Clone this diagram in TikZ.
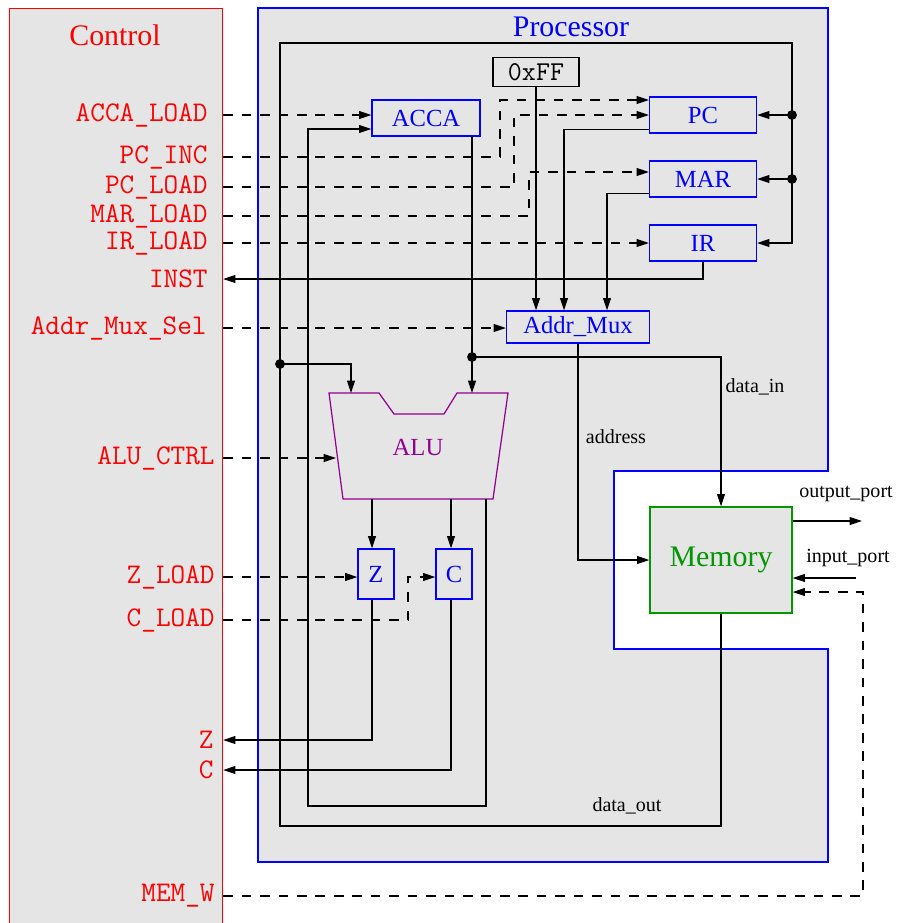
\documentclass[tikz,border=0pt]{standalone}
\usepackage{fontspec}
\setmainfont{Liberation Serif}
\usetikzlibrary{arrows.meta,calc}
\definecolor{panelgray}{RGB}{229,229,229}
\definecolor{ctrlred}{RGB}{255,0,0}
\definecolor{regblue}{RGB}{0,0,255}
\definecolor{memgreen}{RGB}{0,150,0}
\definecolor{alupurple}{RGB}{145,0,145}
\tikzset{
    ctrlbox/.style={draw=ctrlred,fill=panelgray,line width=0.7pt,inner sep=0pt},
    procpanel/.style={draw=regblue,fill=panelgray,line width=0.7pt},
    titletext/.style={inner sep=0pt,font=\fontsize{17}{20}\selectfont},
    regbox/.style={draw=regblue,fill=panelgray,line width=0.8pt,text=regblue,inner sep=0pt,font=\fontsize{14}{16}\selectfont},
    constbox/.style={draw=black,fill=panelgray,line width=0.7pt,inner sep=0pt,font=\ttfamily\fontsize{15.5}{18}\selectfont},
    membox/.style={draw=memgreen,fill=panelgray,line width=0.8pt,text=memgreen,inner sep=0pt,font=\fontsize{17}{20}\selectfont},
    alushape/.style={draw=alupurple,fill=panelgray,line width=0.7pt},
    sigtext/.style={text=ctrlred,anchor=east,inner sep=0pt,font=\ttfamily\fontsize{16.2}{18}\selectfont},
    wiretext/.style={inner sep=0pt,font=\fontsize{11.4}{13}\selectfont},
    wire/.style={->,line width=0.6pt},
    ctlwire/.style={->,line width=0.6pt,dash pattern=on 5.5pt off 5pt},
    junction/.style={fill=black}
}

\begin{document}
\begin{tikzpicture}[x=0.02cm,y=-0.02cm,>={Triangle[length=7pt,width=4.5pt]}]
    \useasboundingbox (0,0) rectangle (897,923);
    % Control unit
    \node[ctrlbox,anchor=north west,minimum width=4.26cm,minimum height=18.7cm] (ctrl) at (9,8) {};
    \node[titletext,text=ctrlred] (ctrltitle) at (115,35) {Control};
    \node[sigtext] (sACCA) at (208,115) {ACCA\_LOAD};
    \node[sigtext] (sPCINC) at (208,157) {PC\_INC};
    \node[sigtext] (sPCLOAD) at (208,187) {PC\_LOAD};
    \node[sigtext] (sMARLOAD) at (208,216) {MAR\_LOAD};
    \node[sigtext] (sIRLOAD) at (208,243) {IR\_LOAD};
    \node[sigtext] (sINST) at (208,279) {INST};
    \node[sigtext] (sAMS) at (207,328) {Addr\_Mux\_Sel};
    \node[sigtext] (sALUC) at (215,458) {ALU\_CTRL};
    \node[sigtext] (sZL) at (215,577) {Z\_LOAD};
    \node[sigtext] (sCL) at (215,620) {C\_LOAD};
    \node[sigtext] (sZ) at (214,740) {Z};
    \node[sigtext] (sC) at (214,770) {C};
    \node[sigtext] (sMEMW) at (215,896) {MEM\_W};
    % Processor outline
    \draw[procpanel] (258,8) -- (828,8) -- (828,471) -- (614,471) -- (614,649) -- (828,649) -- (828,862) -- (258,862) -- cycle;
    \node[titletext,text=regblue] (proctitle) at (571,27) {Processor};
    % Registers and blocks
    \node[constbox,minimum width=1.72cm,minimum height=0.58cm] (ff) at (536,72) {0xFF};
    \node[regbox,minimum width=2.16cm,minimum height=0.72cm] (acca) at (426,118) {ACCA};
    \node[regbox,minimum width=2.14cm,minimum height=0.72cm] (pc) at (703,115) {PC};
    \node[regbox,minimum width=2.14cm,minimum height=0.72cm] (mar) at (703,179) {MAR};
    \node[regbox,minimum width=2.14cm,minimum height=0.72cm] (ir) at (703,243) {IR};
    \node[regbox,minimum width=2.86cm,minimum height=0.64cm] (amux) at (578,327) {Addr\_Mux};
    \node[regbox,minimum width=0.72cm,minimum height=1cm] (z) at (376,574) {Z};
    \node[regbox,minimum width=0.72cm,minimum height=1cm] (c) at (454,574) {C};
    \node[membox,minimum width=2.84cm,minimum height=2.12cm] (mem) at (721,560) {Memory};
    % ALU
    \draw[alushape] (329,393) -- (379,393) -- (394,414) -- (444,414) -- (457,393) -- (508,393) -- (493,499) -- (343,499) -- cycle;
    \node[regbox,draw=none,fill=none,text=alupurple] (alu) at (418,447) {ALU};
    \coordinate (aluinA) at (351,393);
    \coordinate (aluinB) at (472,393);
    \coordinate (aluZ) at (372,499);
    \coordinate (aluC) at (451,499);
    \coordinate (aluout) at (486,499);
    \coordinate (aluctl) at (336,458);
    % Data bus from memory
    \coordinate (busTL) at (280,43);
    \coordinate (busTR) at (792,43);
    \coordinate (busBL) at (280,826);
    \coordinate (tapA) at (280,364);
    \draw[wire] (mem.south) |- (busBL) -- (busTL) -- (busTR) |- (ir.east);
    \draw[wire] (busTR |- pc.east) -- (pc.east);
    \draw[wire] (busTR |- mar.east) -- (mar.east);
    \fill[junction] (busTR |- pc.east) circle (2.8pt);
    \fill[junction] (busTR |- mar.east) circle (2.8pt);
    \fill[junction] (tapA) circle (2.8pt);
    \draw[wire] (tapA) -| (aluinA);
    % Accumulator paths
    \coordinate (accaout) at (472,136);
    \coordinate (tapB) at (472,357);
    \draw[wire] (accaout) -- (aluinB);
    \fill[junction] (tapB) circle (2.8pt);
    \draw[wire] (tapB) -| (mem.north);
    \draw[wire] (aluout) |- (308,806) |- ($(acca.west)+(0,11)$);
    % Flags
    \draw[wire] (aluZ) -- (aluZ |- z.north);
    \draw[wire] (aluC) -- (aluC |- c.north);
    \draw[wire] (aluZ |- z.south) |- (sZ -| ctrl.east);
    \draw[wire] (aluC |- c.south) |- (sC -| ctrl.east);
    % Address paths
    \draw[wire] (ir.south) |- (sINST -| ctrl.east);
    \draw[wire] (ff.south) -- (ff.south |- amux.north);
    \draw[wire] ($(pc.south west)+(0,-4)$) -| ($(amux.north)+(-14,0)$);
    \draw[wire] ($(mar.south west)+(0,-4)$) -| ($(amux.north)+(29,0)$);
    \draw[wire] (amux.south) |- (mem.west);
    % Memory ports
    \coordinate (outport) at (862,521);
    \coordinate (inport) at (856,578);
    \draw[wire] (mem.east |- outport) -- (outport);
    \draw[wire] (inport) -- (inport -| mem.east);
    % Control signals
    \coordinate (jogInc) at (500,100);
    \coordinate (jogLoad) at (514,115);
    \coordinate (jogMar) at (529,172);
    \coordinate (jogC) at (408,577);
    \coordinate (jogW) at (863,592);
    \draw[ctlwire] (sACCA -| ctrl.east) -- (sACCA -| acca.west);
    \draw[ctlwire] (sPCINC -| ctrl.east) -| (jogInc) -- (jogInc -| pc.west);
    \draw[ctlwire] (sPCLOAD -| ctrl.east) -| (jogLoad) -- (jogLoad -| pc.west);
    \draw[ctlwire] (sMARLOAD -| ctrl.east) -| (jogMar) -- (jogMar -| mar.west);
    \draw[ctlwire] (sIRLOAD -| ctrl.east) -- (sIRLOAD -| ir.west);
    \draw[ctlwire] (sAMS -| ctrl.east) -- (sAMS -| amux.west);
    \draw[ctlwire] (sALUC -| ctrl.east) -- (aluctl);
    \draw[ctlwire] (sZL -| ctrl.east) -- (sZL -| z.west);
    \draw[ctlwire] (sCL -| ctrl.east) -| (jogC) -- (jogC -| c.west);
    \draw[ctlwire] (sMEMW -| ctrl.east) -| (jogW) -- (jogW -| mem.east);
    % Wire labels
    \node[wiretext] (addrlbl) at (616,437) {address};
    \node[wiretext] (dinlbl) at (755,387) {data\_in};
    \node[wiretext] (doutlbl) at (627,806) {data\_out};
    \node[wiretext] (outlbl) at (846,494) {output\_port};
    \node[wiretext] (inlbl) at (848,558) {input\_port};
\end{tikzpicture}
\end{document}
